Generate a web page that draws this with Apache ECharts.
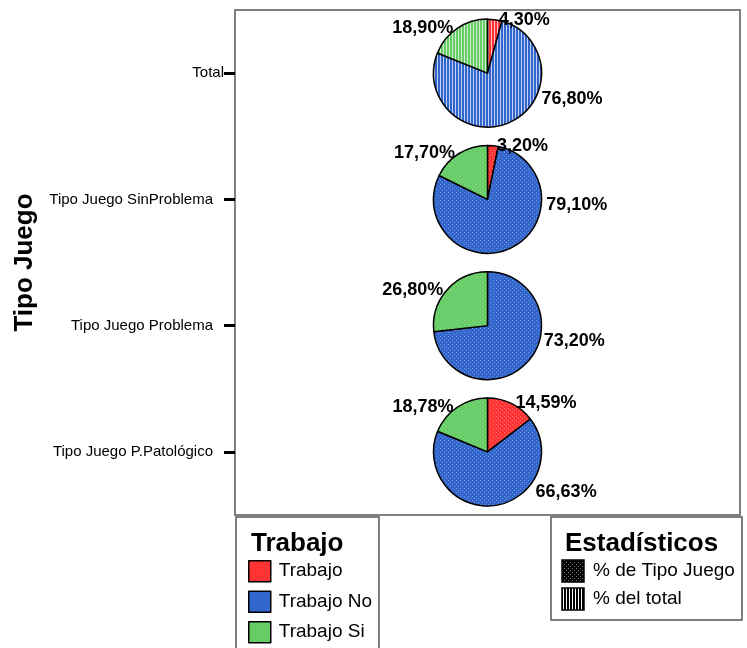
<!DOCTYPE html>
<html>
<head>
<meta charset="utf-8">
<script src="https://cdn.jsdelivr.net/npm/echarts@6/dist/echarts.min.js"></script>
<style>
html, body { margin: 0; padding: 0; background: #fff; }
#chart { width: 747px; height: 648px; }
</style>
</head>
<body>
<div id="chart"></div>
<script>
// Rows of the chart (top to bottom)
const categories = ['Total', 'Tipo Juego SinProblema', 'Tipo Juego Problema', 'Tipo Juego P.Patológico'];
// Slice names (legend "Trabajo")
const trabajoNames = ['Trabajo', 'Trabajo No', 'Trabajo Si'];
// Percentages per row
const pctTrabajo   = [4.30, 3.20, 0, 14.59];
const pctTrabajoNo = [76.80, 79.10, 73.20, 66.63];
const pctTrabajoSi = [18.90, 17.70, 26.80, 18.78];
// Statistic shown in each row: 0 = % de Tipo Juego, 1 = % del total
const statNames = ['% de Tipo Juego', '% del total'];
const rowStat = [1, 0, 0, 0];

const FONT = 'Arial, "Liberation Sans", sans-serif';
const colors = ['#ff3333', '#3366cc', '#66cc66'];

function tile(w, h, base, paint) {
  const c = document.createElement('canvas');
  c.width = w; c.height = h;
  const g = c.getContext('2d');
  g.fillStyle = base; g.fillRect(0, 0, w, h);
  paint(g);
  return { image: c, repeat: 'repeat' };
}
// vertical stripes (% del total)
function stripes(base, ink) {
  return tile(3, 4, base, g => { g.fillStyle = ink; g.fillRect(2, 0, 1, 4); });
}
// fine speckle (% de Tipo Juego)
function speckle(base, ink) {
  return tile(4, 4, base, g => { g.fillStyle = ink; g.fillRect(0, 0, 1, 1); g.fillRect(2, 2, 1, 1); });
}
function fillFor(stat, color) {
  return stat === 1 ? stripes(color, 'rgba(255,255,255,0.7)') : speckle(color, 'rgba(255,255,255,0.3)');
}

// Label shifts for the large slice of each pie
const bigLabelShift = [[26, -23], [31, -43], [12, -21], [37, -13]];

const chart = echarts.init(document.getElementById('chart'), null, { renderer: 'canvas' });

const base = {
  animation: false,
  backgroundColor: '#fff',
  grid: { left: 235, right: 7, top: 10, bottom: 133, show: true, borderColor: '#808080', borderWidth: 2 },
  xAxis: { type: 'value', min: -1, max: 1, show: false },
  yAxis: {
    type: 'category',
    inverse: true,
    data: categories.map((c, i) => ({ value: c, textStyle: { padding: [0, i === 0 ? 0 : 11, 0, 0] } })),
    axisLine: { show: true, onZero: false, lineStyle: { color: '#808080', width: 2 } },
    axisTick: { show: true, alignWithLabel: true, length: 11, lineStyle: { color: '#000', width: 3 } },
    axisLabel: { margin: 11, fontSize: 15, color: '#000', fontFamily: FONT },
    splitLine: { show: false },
    name: 'Tipo Juego',
    nameLocation: 'middle',
    nameRotate: 90,
    nameGap: 197,
    nameTextStyle: { fontSize: 26, fontWeight: 'bold', color: '#000', fontFamily: FONT }
  }
};
chart.setOption(base);

const cx = chart.convertToPixel({ xAxisIndex: 0 }, 0);
const series = categories.map((cat, i) => {
  const vals = [pctTrabajo[i], pctTrabajoNo[i], pctTrabajoSi[i]];
  const cy = chart.convertToPixel({ yAxisIndex: 0 }, cat);
  return {
    type: 'pie',
    name: cat,
    center: [cx, cy],
    radius: 54,
    startAngle: 90,
    clockwise: true,
    avoidLabelOverlap: false,
    silent: true,
    itemStyle: { borderColor: '#000', borderWidth: 1.5 },
    label: {
      show: true, position: 'outside', distanceToLabelLine: 4,
      fontSize: 18, fontWeight: 'bold', color: '#000', fontFamily: FONT,
      formatter: p => p.value > 0 ? p.value.toFixed(2).replace('.', ',') + '%' : ''
    },
    labelLine: { show: false, length: 0, length2: 0 },
    labelLayout: p => p.dataIndex === 1 ? { dx: bigLabelShift[i][0], dy: bigLabelShift[i][1] } : {},
    data: vals.map((v, k) => ({
      name: trabajoNames[k],
      value: v,
      itemStyle: { color: fillFor(rowStat[i], colors[k]) }
    }))
  };
});

const stripeSwatch = stripes('#000', '#fff');
const speckleSwatch = speckle('#000', 'rgba(255,255,255,0.5)');

chart.setOption({
  series: series,
  legend: {
    orient: 'vertical', left: 248, top: 560, padding: 0, height: 100,
    itemWidth: 22, itemHeight: 21, itemGap: 8, icon: 'rect',
    selectedMode: false,
    itemStyle: { borderColor: '#000', borderWidth: 1.5 },
    textStyle: { fontSize: 19, color: '#000', fontFamily: FONT, padding: [0, 0, 0, 3] },
    data: trabajoNames.map((n, k) => ({ name: n, itemStyle: { color: colors[k] } }))
  },
  graphic: [
    { type: 'rect', shape: { x: 236, y: 517, width: 143, height: 140 }, style: { fill: 'none', stroke: '#555', lineWidth: 1.5 } },
    { type: 'text', x: 251, y: 544, style: { text: 'Trabajo', fontSize: 26, fontWeight: 'bold', fill: '#000', fontFamily: FONT, verticalAlign: 'middle' } },
    { type: 'rect', shape: { x: 551, y: 517, width: 191, height: 103 }, style: { fill: 'none', stroke: '#555', lineWidth: 1.5 } },
    { type: 'text', x: 565, y: 544, style: { text: 'Estadísticos', fontSize: 26, fontWeight: 'bold', fill: '#000', fontFamily: FONT, verticalAlign: 'middle' } },
    { type: 'rect', shape: { x: 562, y: 560, width: 22, height: 22 }, style: { fill: speckleSwatch, stroke: '#000', lineWidth: 1.5 } },
    { type: 'text', x: 593, y: 571, style: { text: statNames[0], fontSize: 19, fill: '#000', fontFamily: FONT, verticalAlign: 'middle' } },
    { type: 'rect', shape: { x: 562, y: 588, width: 22, height: 22 }, style: { fill: stripeSwatch, stroke: '#000', lineWidth: 1.5 } },
    { type: 'text', x: 593, y: 599, style: { text: statNames[1], fontSize: 19, fill: '#000', fontFamily: FONT, verticalAlign: 'middle' } }
  ]
});
</script>
</body>
</html>
